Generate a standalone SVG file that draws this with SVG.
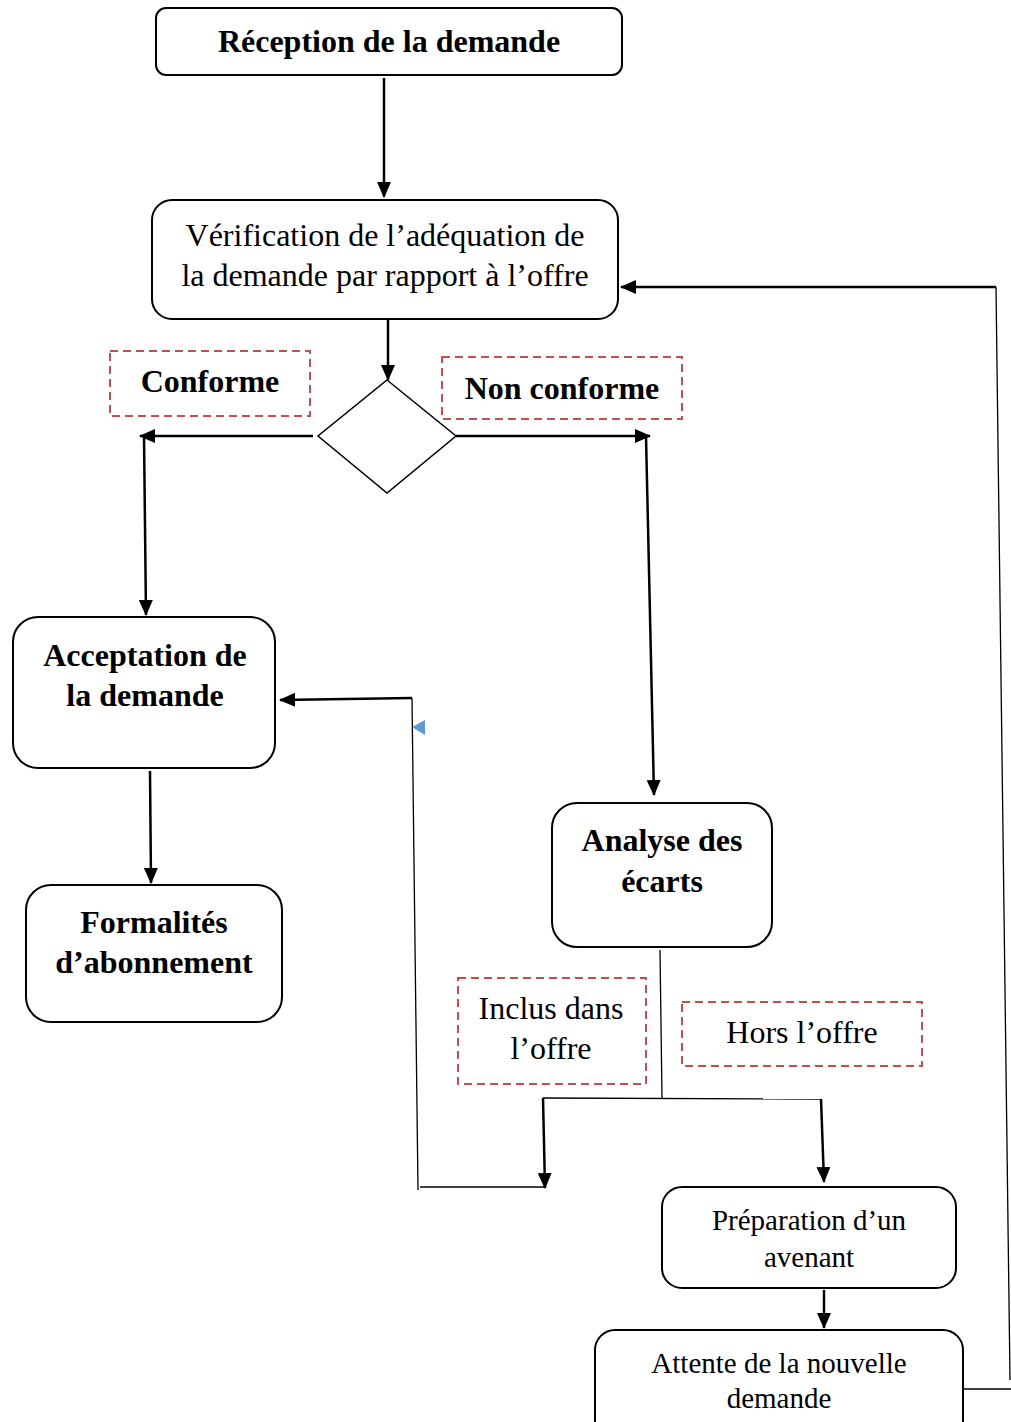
<svg xmlns="http://www.w3.org/2000/svg" width="1011" height="1422" viewBox="0 0 1011 1422">
<style>
.box{fill:#fff;stroke:#000;stroke-width:2}
.dash{fill:#fff;stroke:#c0504d;stroke-width:2;stroke-dasharray:8,5}
.t{font-family:"Liberation Serif","Times New Roman",serif;font-size:32px;fill:#000;text-anchor:middle}
.s{font-size:29px}
.b{font-weight:bold}
.c{fill:none;stroke:#000;stroke-width:2.5}
.thin{fill:none;stroke:#000;stroke-width:1.3}
</style>
<defs>
<marker id="ah" markerUnits="userSpaceOnUse" markerWidth="16" markerHeight="14" refX="15" refY="7" orient="auto">
<path d="M0,0 L16,7 L0,14 Z" fill="#000"/>
</marker>
</defs>
<rect width="1011" height="1422" fill="#fff"/>
<g id="connectors">
<line class="c" x1="384" y1="78" x2="384" y2="197" marker-end="url(#ah)"/>
<line class="c" x1="388" y1="320" x2="388" y2="380" marker-end="url(#ah)"/>
<line class="c" x1="313" y1="436" x2="140" y2="436" marker-end="url(#ah)"/>
<line class="c" x1="144" y1="436" x2="146" y2="615" marker-end="url(#ah)"/>
<line class="c" x1="456" y1="436" x2="650" y2="436" marker-end="url(#ah)"/>
<line class="c" x1="646" y1="436" x2="654" y2="795" marker-end="url(#ah)"/>
<line class="c" x1="150" y1="771" x2="151" y2="883" marker-end="url(#ah)"/>
<line class="thin" x1="660" y1="950" x2="662" y2="1098"/>
<polyline class="thin" points="543,1098 820,1099"/>
<line class="c" x1="543" y1="1098" x2="545" y2="1188" marker-end="url(#ah)"/>
<line class="c" x1="821" y1="1099" x2="824" y2="1182" marker-end="url(#ah)"/>
<line class="thin" x1="420" y1="1187" x2="545" y2="1187"/>
<line class="thin" x1="418" y1="1190" x2="412" y2="698"/>
<line class="c" x1="412" y1="698" x2="280" y2="700" marker-end="url(#ah)"/>
<path d="M412,727 L425,720 L425,735 Z" fill="#5b9bd5"/>
<line class="c" x1="824" y1="1290" x2="824" y2="1328" marker-end="url(#ah)"/>
<line class="thin" x1="963" y1="1389" x2="1011" y2="1389"/>
<line class="thin" x1="1010" y1="1380" x2="996" y2="287"/>
<line class="c" x1="996" y1="287" x2="621" y2="287" marker-end="url(#ah)"/>
</g>
<g id="reception">
<rect class="box" x="156" y="8" width="466" height="67" rx="10"/>
<text class="t b" x="389" y="52">Réception de la demande</text>
</g>
<g id="verification">
<rect class="box" x="152" y="200" width="466" height="119" rx="20"/>
<text class="t" x="385" y="246">Vérification de l’adéquation de</text>
<text class="t" x="385" y="286">la demande par rapport à l’offre</text>
</g>
<g id="decision">
<polygon points="387,380 456,436 387,493 318,436" fill="#fff" stroke="#000" stroke-width="1.5"/>
</g>
<g id="conforme">
<rect class="dash" x="110" y="351" width="200" height="65"/>
<text class="t b" x="210" y="392">Conforme</text>
</g>
<g id="nonconforme">
<rect class="dash" x="442" y="357" width="240" height="62"/>
<text class="t b" x="562" y="399">Non conforme</text>
</g>
<g id="acceptation">
<rect class="box" x="13" y="617" width="262" height="151" rx="25"/>
<text class="t b" x="145" y="666">Acceptation de</text>
<text class="t b" x="145" y="706">la demande</text>
</g>
<g id="formalites">
<rect class="box" x="26" y="885" width="256" height="137" rx="25"/>
<text class="t b" x="154" y="933">Formalités</text>
<text class="t b" x="154" y="973">d’abonnement</text>
</g>
<g id="analyse">
<rect class="box" x="552" y="803" width="220" height="144" rx="25"/>
<text class="t b" x="662" y="851">Analyse des</text>
<text class="t b" x="662" y="892">écarts</text>
</g>
<g id="inclus">
<rect class="dash" x="458" y="978" width="188" height="106"/>
<text class="t" x="551" y="1019">Inclus dans</text>
<text class="t" x="551" y="1059">l’offre</text>
</g>
<g id="hors">
<rect class="dash" x="682" y="1002" width="240" height="64"/>
<text class="t" x="802" y="1043">Hors l’offre</text>
</g>
<g id="preparation">
<rect class="box" x="662" y="1187" width="294" height="101" rx="20"/>
<text class="t s" x="809" y="1230">Préparation d’un</text>
<text class="t s" x="809" y="1267">avenant</text>
</g>
<g id="attente">
<rect class="box" x="595" y="1330" width="368" height="110" rx="20"/>
<text class="t s" x="779" y="1373">Attente de la nouvelle</text>
<text class="t s" x="779" y="1408">demande</text>
</g>
</svg>
